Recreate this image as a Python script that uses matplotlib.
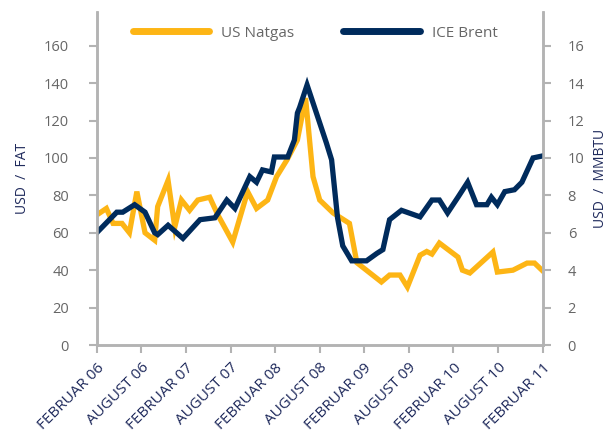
import matplotlib
matplotlib.use("Agg")
import matplotlib.pyplot as plt
import numpy as np

plt.rcParams['font.family'] = ['Open Sans', 'DejaVu Sans']

# x positions in months after Feb 2006
brent_month = [0.0, 2.7, 3.5, 5.1, 6.5, 7.8, 8.2, 9.6, 11.6, 13.9, 15.9, 17.5, 18.6,
               20.6, 21.5, 22.3, 23.5, 23.9, 25.7, 26.6, 27.0, 27.3, 28.3, 30.9, 31.6,
               32.4, 33.1, 34.3, 36.3, 37.7, 38.5, 39.0, 39.4, 41.0, 43.5, 45.1, 46.1,
               47.2, 48.6, 49.9, 51.1, 52.5, 53.1, 53.9, 54.9, 56.2, 57.2, 58.7, 59.9]
brent_usd = [60, 71, 71, 75, 71, 60, 59, 64, 57, 67, 68, 77.5, 73,
             90, 87, 93.6, 92.5, 100.5, 100.5, 109.6, 124, 127, 139, 108, 99,
             68, 53, 45, 45, 49, 51, 60, 67, 72, 68.5, 77.5, 77.5,
             70.6, 79, 87, 75, 75, 79, 75, 82, 83, 87, 100, 101]

gas_month = [0.0, 1.3, 2.2, 3.4, 4.4, 5.4, 6.5, 7.8, 8.2, 9.6, 10.5, 11.4, 12.5,
             13.6, 15.2, 16.3, 18.3, 20.3, 21.5, 23.0, 24.2, 25.6, 27.0, 28.1, 29.1,
             30.0, 31.8, 34.0, 35.0, 38.3, 39.4, 40.8, 41.8, 43.5, 44.4, 45.1, 46.1,
             48.6, 49.2, 50.2, 53.3, 53.9, 56.0, 57.9, 58.9, 59.9]
gas_mmbtu = [6.95, 7.3, 6.5, 6.5, 6.0, 8.2, 6.0, 5.6, 7.4, 8.8, 6.3, 7.75, 7.2,
             7.75, 7.9, 6.95, 5.5, 8.2, 7.3, 7.75, 9.0, 9.9, 10.96, 13.2, 9.0,
             7.75, 7.06, 6.5, 4.4, 3.37, 3.74, 3.74, 3.1, 4.8, 5.0, 4.86, 5.45,
             4.7, 4.0, 3.85, 4.97, 3.9, 4.0, 4.38, 4.38, 4.0]

tick_labels = ['FEBRUAR 06', 'AUGUST 06', 'FEBRUAR 07', 'AUGUST 07', 'FEBRUAR 08',
               'AUGUST 08', 'FEBRUAR 09', 'AUGUST 09', 'FEBRUAR 10', 'AUGUST 10',
               'FEBRUAR 11']

orange = '#FDB515'
navy = '#002B5C'
grey = '#B3B3B3'
text_grey = '#666666'

fig = plt.figure(figsize=(6.16, 4.37), dpi=100)
ax = fig.add_axes([0.157, 0.2105, 0.724, 0.762])
ax2 = ax.twinx()

ax2.plot(gas_month, gas_mmbtu, color=orange, lw=3.8, solid_joinstyle='miter', label='US Natgas')
ax.plot(brent_month, brent_usd, color=navy, lw=3.8, solid_joinstyle='miter', label='ICE Brent')
ax.set_zorder(ax2.get_zorder() + 1)
ax.patch.set_visible(False)

ax.set_xlim(0, 60)
ax.set_ylim(0, 178)
ax2.set_ylim(0, 17.8)
ax.set_yticks(np.arange(0, 161, 20))
ax2.set_yticks(np.arange(0, 17, 2))
ax.set_xticks(np.arange(0, 61, 6))

for a in (ax, ax2):
    a.spines['top'].set_visible(False)
    for s in ('left', 'right', 'bottom'):
        a.spines[s].set_color(grey)
        a.spines[s].set_linewidth(1.8)
    a.tick_params(axis='both', colors=grey, width=1.5, length=6, labelcolor=text_grey,
                  labelsize=10.5, pad=14)
ax2.tick_params(axis='y', pad=12)
ax.tick_params(axis='x', pad=5)
ax.set_xticklabels(tick_labels, rotation=45, ha='right', rotation_mode='anchor',
                   color='#1F2A5C', fontsize=11)

ax.set_ylabel('USD  /  FAT', color='#1F2A5C', fontsize=10, labelpad=10)
ax2.set_ylabel('USD  /  MMBTU', color='#1F2A5C', fontsize=10, labelpad=6)

h1, l1 = ax2.get_legend_handles_labels()
h2, l2 = ax.get_legend_handles_labels()
leg = ax.legend(h1 + h2, l1 + l2, loc='upper center', bbox_to_anchor=(0.49, 1.0),
                ncol=2, frameon=False, handlelength=5, columnspacing=3.2,
                fontsize=11)
for t in leg.get_texts():
    t.set_color(text_grey)
for ln in leg.get_lines():
    ln.set_linewidth(5)
    ln.set_solid_capstyle('round')

fig.savefig('out.png', dpi=100)
